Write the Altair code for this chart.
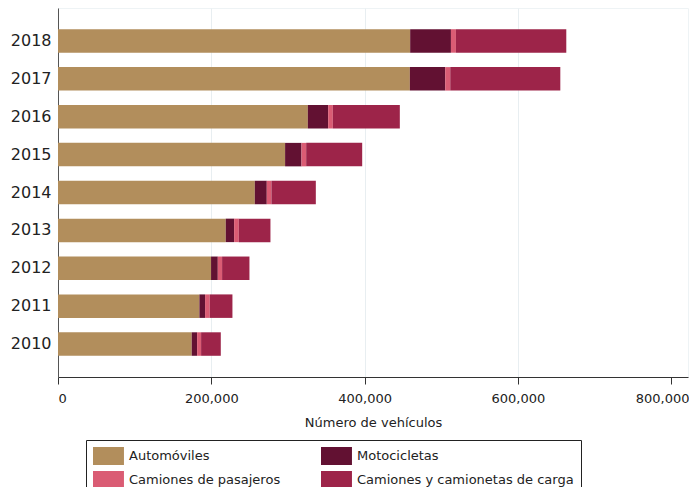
import altair as alt
import pandas as pd

years = ["2010", "2011", "2012", "2013", "2014", "2015", "2016", "2017", "2018"]
automoviles = [174500, 184500, 199700, 218900, 256800, 296300, 326000, 459100, 459500]
motocicletas = [7000, 7400, 8800, 10900, 15600, 21400, 26500, 46100, 53200]
pasajeros = [5200, 6100, 5600, 6100, 6100, 6100, 6100, 6600, 6500]
carga = [25700, 29600, 35700, 41300, 57900, 73100, 87400, 143600, 144000]

series = ["Automóviles", "Motocicletas", "Camiones de pasajeros", "Camiones y camionetas de carga"]
colors = ["#B28E5C", "#621132", "#DA5C74", "#9D2449"]

rows = []
for i, y in enumerate(years):
    for k, (name, vals) in enumerate(zip(series, [automoviles, motocicletas, pasajeros, carga])):
        rows.append({"Año": y, "Tipo": name, "Valor": vals[i], "orden": k})
df = pd.DataFrame(rows)

FONT = "DejaVu Sans"

chart = alt.Chart(df).mark_bar().encode(
    y=alt.Y("Año:N", sort=list(reversed(years)), title=None,
            scale=alt.Scale(paddingInner=0.38, paddingOuter=0.56),
            axis=alt.Axis(ticks=False, labelPadding=7, labelFontSize=16, labelColor="#222",
                          domainColor="#555", grid=False, labelFont=FONT)),
    x=alt.X("Valor:Q", stack="zero", title="Número de vehículos",
            scale=alt.Scale(domain=[0, 822000], nice=False),
            axis=alt.Axis(values=[0, 200000, 400000, 600000, 800000], format=",d",
                          labelFontSize=13, labelColor="#222", labelFont=FONT, labelPadding=8,
                          labelOffset={"condition": {"test": "datum.value >= 800000", "value": -9}, "value": 0},
                          titleFontSize=13, titleFontWeight="normal", titleColor="#222",
                          titleFont=FONT, titlePadding=11,
                          tickSize=7, tickColor="#333", domainColor="#333",
                          gridColor="#E8EEF1",
                          gridOpacity={"condition": {"test": "datum.value >= 800000", "value": 0}, "value": 1})),
    color=alt.Color("Tipo:N", scale=alt.Scale(domain=series, range=colors),
                    legend=alt.Legend(title=None, orient="none", legendX=28, legendY=432,
                                      direction="horizontal",
                                      columns=2, columnPadding=40, rowPadding=6,
                                      symbolType="M-1,-1H2.44V1H-1Z", symbolSize=324,
                                      symbolStrokeWidth=0, symbolOpacity=1,
                                      labelFontSize=13, labelFont=FONT, labelColor="#222",
                                      labelOffset=18, labelLimit=400,
                                      strokeColor="#222", padding=7)),
    order=alt.Order("orden:Q"),
).properties(
    width=630, height=369,
    autosize=alt.AutoSizeParams(type="none"),
    padding={"left": 50, "top": 0, "right": 1, "bottom": 110},
).configure_view(stroke="#EEF3F5")

chart.save("out.html", embed_options={"renderer": "svg", "actions": False})
